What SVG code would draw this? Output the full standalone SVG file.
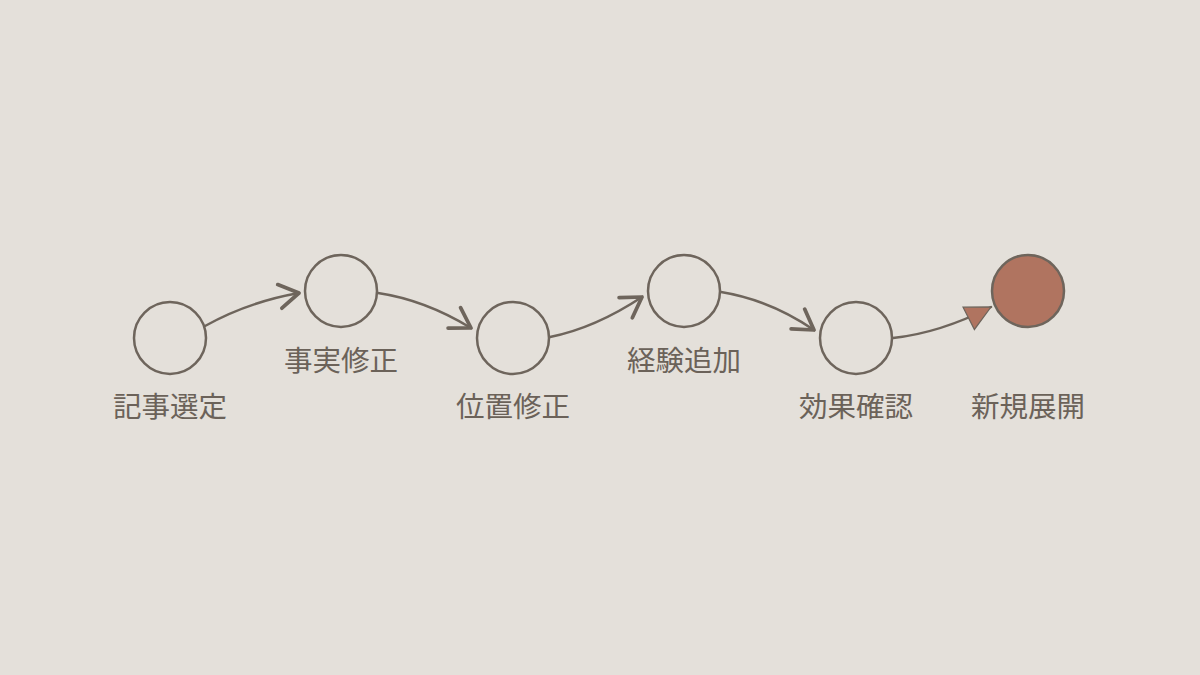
<svg xmlns="http://www.w3.org/2000/svg" width="1200" height="675" viewBox="0 0 1200 675">
<style>
.node{fill:none;stroke:#6e655c;stroke-width:2.5}
.final{fill:#b07460;stroke:#6e655c;stroke-width:2.5}
.edge{fill:none;stroke:#6e655c;stroke-width:2.5;stroke-linecap:round}
.lbl{font-family:"Noto Sans CJK JP","Noto Sans CJK SC",sans-serif;font-size:28.5px;fill:#6b6259;text-anchor:middle}
</style>
<defs>
<marker id="open" markerUnits="userSpaceOnUse" markerWidth="30" markerHeight="30" viewBox="-16 -10 20 20" refX="0" refY="0" orient="auto">
<path d="M-13,-8 L0,0 L-13,8" fill="none" stroke="#6e655c" stroke-width="2.5" stroke-linecap="round" stroke-linejoin="round"/>
</marker>
<marker id="solid" markerUnits="userSpaceOnUse" markerWidth="30" markerHeight="30" viewBox="-22 -12 24 24" refX="0" refY="0" orient="auto">
<path d="M-20,-10 L0,0 L-20,10 Z" fill="#b07460" stroke="#6e655c" stroke-width="1"/>
</marker>
</defs>
<rect width="1200" height="675" fill="#e4e0da"/>
<g id="connectors">
<path class="edge" d="M205,326 Q248,302 299,293" marker-end="url(#open)"/>
<path class="edge" d="M378,293 Q425,300 471,328" marker-end="url(#open)"/>
<path class="edge" d="M550,337 Q595,328 642,297" marker-end="url(#open)"/>
<path class="edge" d="M721,292 Q770,300 814,330" marker-end="url(#open)"/>
<path class="edge" d="M893,338 Q940,333 991,307" marker-end="url(#solid)"/>
</g>
<g id="n1"><circle class="node" cx="170" cy="338" r="36"/><text class="lbl" x="170" y="417">記事選定</text></g>
<g id="n2"><circle class="node" cx="341" cy="291" r="36"/><text class="lbl" x="341" y="371">事実修正</text></g>
<g id="n3"><circle class="node" cx="513" cy="338" r="36"/><text class="lbl" x="513" y="417">位置修正</text></g>
<g id="n4"><circle class="node" cx="684" cy="291" r="36"/><text class="lbl" x="684" y="371">経験追加</text></g>
<g id="n5"><circle class="node" cx="856" cy="338" r="36"/><text class="lbl" x="856" y="417">効果確認</text></g>
<g id="n6"><circle class="final" cx="1028" cy="291" r="36"/><text class="lbl" x="1028" y="417">新規展開</text></g>
</svg>
